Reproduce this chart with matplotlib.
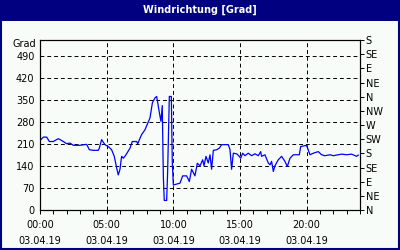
import numpy as np
import matplotlib
matplotlib.use('Agg')
import matplotlib.pyplot as plt
from matplotlib.patches import Rectangle

# wind direction over the day, hours vs degrees
hours = [0.0, 0.25, 0.5, 0.7, 1.0, 1.37, 1.75, 2.0, 2.25, 2.5, 3.0, 3.5, 3.7, 4.0,
         4.37, 4.45, 4.62, 4.87, 5.12, 5.37, 5.57, 5.75, 5.87, 6.0, 6.12, 6.25,
         6.45, 6.75, 6.92, 7.25, 7.33, 7.62, 7.87, 8.25, 8.43, 8.62, 8.75, 8.95,
         9.07, 9.17, 9.25, 9.32, 9.5, 9.57, 9.7, 9.85, 9.92, 10.0, 10.25, 10.5,
         10.7, 11.0, 11.2, 11.37, 11.62, 11.8, 12.0, 12.2, 12.3, 12.45, 12.62,
         12.75, 12.87, 13.0, 13.25, 13.45, 13.62, 14.12, 14.25, 14.37, 14.5,
         14.75, 14.95, 15.05, 15.2, 15.37, 15.62, 15.87, 16.12, 16.37, 16.55,
         16.62, 16.87, 17.12, 17.25, 17.37, 17.5, 17.62, 17.87, 18.12, 18.37,
         18.55, 18.75, 19.0, 19.45, 19.55, 19.87, 20.0, 20.25, 20.5, 20.87,
         21.12, 21.37, 21.75, 22.0, 22.37, 22.62, 23.0, 23.37, 23.75, 23.87]
grad = [221, 232, 232, 218, 218, 227, 218, 211, 213, 206, 206, 209, 192, 190,
        190, 197, 224, 208, 202, 192, 171, 134, 112, 130, 171, 165,
        176, 197, 218, 218, 211, 240, 255, 293, 341, 356, 361, 310,
        282, 332, 107, 31, 31, 118, 361, 361, 155, 80, 83, 86,
        109, 109, 91, 130, 109, 149, 141, 160, 141, 171, 150,
        176, 130, 190, 192, 197, 208, 208, 192, 130, 181,
        179, 171, 165, 181, 173, 181, 173, 179, 173, 186,
        171, 176, 150, 144, 155, 123, 141, 160, 171, 155,
        139, 165, 176, 176, 202, 205, 205, 176, 181, 186,
        176, 173, 176, 173, 176, 178, 176, 178, 171, 175]

xticks = [0, 5, 10, 15, 20]
xlabels = ['00:00\n03.04.19', '05:00\n03.04.19', '10:00\n03.04.19',
           '15:00\n03.04.19', '20:00\n03.04.19']
yticks = [0, 70, 140, 210, 280, 350, 420, 490]
rticks = [0, 45, 90, 135, 180, 225, 270, 315, 360, 405, 450, 495, 540]
rlabels = ['N', 'NE', 'E', 'SE', 'S', 'SW', 'W', 'NW', 'N', 'NE', 'E', 'SE', 'S']

plt.rcParams['font.family'] = 'DejaVu Sans'
fs = 7

fig = plt.figure(figsize=(4, 2.5), dpi=100)
fig.patch.set_facecolor('#f8fcf8')

# title bar and frame
fig.patches.append(Rectangle((0, 0.918), 1, 0.082, transform=fig.transFigure,
                             facecolor='#000080', edgecolor='none', zorder=0))
fig.patches.append(Rectangle((0.002, 0.004), 0.996, 0.992, transform=fig.transFigure,
                             facecolor='none', edgecolor='#000080', lw=1.5, zorder=0))
fig.text(0.5, 0.959, 'Windrichtung [Grad]', color='white', ha='center', va='center',
         fontsize=fs, fontweight='bold')

ax = fig.add_axes([0.1, 0.159, 0.8, 0.681])
ax.set_facecolor('#f8fcf8')
ax.plot(hours, grad, color='#0000ff', lw=0.9)
ax.set_xlim(0, 24)
ax.set_ylim(0, 540)

ax.set_xticks(xticks)
ax.set_xticklabels(xlabels, fontsize=fs, linespacing=1.75)
ax.set_xticks(np.arange(0, 25, 1), minor=True)
ax.tick_params(axis='x', which='both', direction='out', length=3, width=0.7, pad=4)
ax.set_yticks(yticks)
ax.set_yticklabels([str(v) for v in yticks], fontsize=fs)
ax.tick_params(axis='y', length=0, pad=4)
ax.grid(True, which='major', color='black', linestyle=(0, (4, 3)), lw=0.7)
for s in ax.spines.values():
    s.set_linewidth(0.8)
    s.set_color('black')

ax.text(-0.012, 0.975, 'Grad', transform=ax.transAxes, ha='right', va='center',
        fontsize=fs)

ax2 = ax.twinx()
ax2.set_ylim(0, 540)
ax2.set_yticks(rticks)
ax2.set_yticklabels(rlabels, fontsize=fs)
ax2.tick_params(axis='y', direction='out', length=3, width=0.7, pad=1)

fig.savefig('out.png', dpi=100, facecolor=fig.get_facecolor())
